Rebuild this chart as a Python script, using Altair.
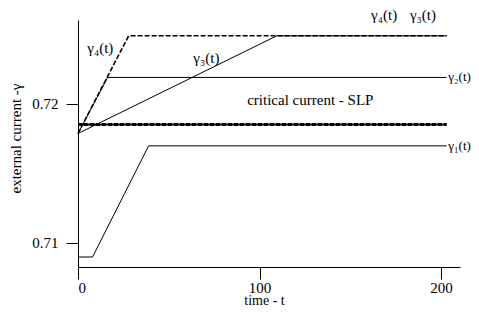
import altair as alt
import pandas as pd

# series data (time t, external current gamma)
t_g1 = [0, 8, 38.9, 203]
v_g1 = [0.70896, 0.70896, 0.71697, 0.71697]
t_g2 = [0, 16.3, 203]
v_g2 = [0.71786, 0.7219, 0.7219]
t_g3 = [0, 109.5, 203]
v_g3 = [0.71786, 0.7249, 0.7249]
t_g4 = [0, 27.9, 203]
v_g4 = [0.71786, 0.7249, 0.7249]
t_crit = [0, 203]
v_crit = [0.71851, 0.71851]

# annotations
lab_text = ["γ₄(t)", "γ₃(t)", "γ₄(t)", "γ₃(t)", "critical current - SLP", "γ₂(t)", "γ₁(t)"]
lab_t = [12.3, 70.7, 168.6, 190.0, 93.2, 216.4, 216.4]
lab_v = [0.72402, 0.72330, 0.72640, 0.72640, 0.72027, 0.7219, 0.71697]
lab_align = ["center", "center", "center", "center", "left", "right", "right"]
lab_size = [15, 15, 15, 15, 15, 13, 13]

x_ticks = [0, 100, 200]
y_ticks = [0.71, 0.72]
x_domain = [0, 210.4]
y_domain = [0.70824, 0.72604]

FONT = "Liberation Serif"

def line_df(ts, vs, name):
    return pd.DataFrame({"t": ts, "v": vs, "s": name})

x_enc = alt.X("t:Q", scale=alt.Scale(domain=x_domain, nice=False, zero=False),
              axis=alt.Axis(values=x_ticks, title="time - t", grid=False,
                            tickSize=12, labelPadding=1, format="d",
                            titleX=186, titleY=40, titleBaseline="bottom",
                            titleAlign="center", titleFontSize=14))
y_enc = alt.Y("v:Q", scale=alt.Scale(domain=y_domain, nice=False, zero=False),
              axis=alt.Axis(values=y_ticks, title="external current -γ", grid=False,
                            tickSize=12, labelPadding=8, format=".2f",
                            titleX=-63, titleY=118, titleAngle=270,
                            titleBaseline="middle", titleAlign="center"))

def solid(ts, vs, name, w=1.0):
    return alt.Chart(line_df(ts, vs, name)).mark_line(color="black", strokeWidth=w).encode(
        x=x_enc, y=y_enc, detail="s:N")

def dashed(ts, vs, name, w=1.6, dash=(5, 2)):
    return alt.Chart(line_df(ts, vs, name)).mark_line(
        color="black", strokeWidth=w, strokeDash=list(dash)).encode(
        x=x_enc, y=y_enc, detail="s:N")

layers = [
    solid(t_g1, v_g1, "g1"),
    solid(t_g2, v_g2, "g2"),
    solid(t_g3, v_g3, "g3"),
    dashed(t_g4, v_g4, "g4"),
    solid(t_crit, v_crit, "crit", w=2.0),
    dashed(t_crit, v_crit, "crit2", w=3.2, dash=(4, 2)),
]

labels = pd.DataFrame({"text": lab_text, "t": lab_t, "v": lab_v,
                       "align": lab_align, "size": lab_size})
for al in ["center", "left", "right"]:
    sub = labels[labels["align"] == al]
    size = float(sub["size"].iloc[0])
    layers.append(
        alt.Chart(sub).mark_text(font=FONT, fontSize=size, color="black",
                                 align=al, baseline="middle").encode(
            x=alt.X("t:Q"), y=alt.Y("v:Q"), text="text:N")
    )

chart = alt.layer(*layers).properties(
    width=382, height=247,
    padding={"left": 70, "top": 12, "right": 11, "bottom": 40},
    autosize="none",
    background="white",
).configure_view(stroke=None).configure_axis(
    domainColor="black", tickColor="black", labelColor="black", titleColor="black",
    labelFont=FONT, labelFontSize=15, titleFont=FONT, titleFontSize=15,
    titleFontWeight="normal", domainWidth=1, tickWidth=1,
)

chart.save("out.html", embed_options={"renderer": "svg", "actions": False})
